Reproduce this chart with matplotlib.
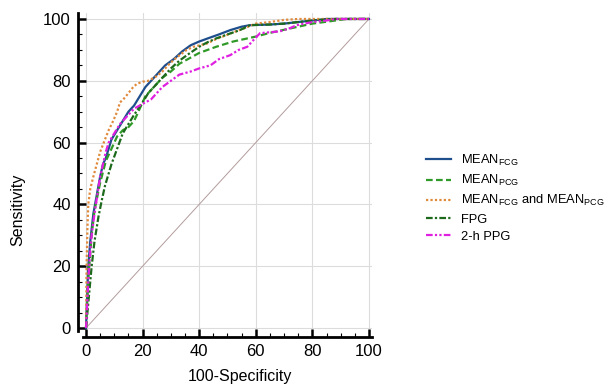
import matplotlib.pyplot as plt
from matplotlib.ticker import MultipleLocator

plt.rcParams['font.family'] = ['Liberation Sans', 'DejaVu Sans']
plt.rcParams['mathtext.fontset'] = 'custom'
plt.rcParams['mathtext.rm'] = 'Liberation Sans'

# ROC points (100-Specificity, Sensitivity)
fcg_x = [0, 0.3, 0.8, 1.5, 2.6, 4, 5, 6, 7, 9, 11, 13, 15, 17, 19, 21, 23, 26, 28, 31, 34, 37, 40, 43, 47, 51, 55, 58, 65, 70, 75, 80, 85, 100]
fcg_y = [0, 8, 20, 28, 37, 44, 49, 53, 55, 61, 64, 67, 70, 72, 75, 78, 80, 83, 85, 87, 89.5, 91.5, 92.7, 93.7, 95, 96.4, 97.5, 98, 98.2, 98.5, 99, 99.5, 100, 100]

pcg_x = [0, 0.5, 1, 2, 3, 5, 7, 9, 11, 13, 15, 17, 19, 21, 24, 27, 30, 33, 36, 40, 46, 52, 56, 60, 65, 70, 75, 80, 85, 92, 100]
pcg_y = [0, 10, 18, 30, 38, 47, 54, 58, 62, 64, 65, 67, 71, 75, 78, 81, 83, 85.5, 87, 89, 91, 92.7, 93.5, 94.3, 95.5, 96.5, 97.5, 98.5, 99.1, 100, 100]

both_x = [0, 0.2, 0.5, 0.8, 1.5, 2.6, 3.2, 5, 6.7, 8, 9.6, 11, 12, 13.2, 15, 16.7, 18, 20, 22, 25, 27, 29.7, 32, 35.6, 38, 42.6, 46, 49.7, 53, 56, 60, 65, 70, 75, 100]
both_y = [0, 20, 32, 40, 45, 49, 51, 57, 61, 64, 67, 70, 73, 74, 76, 78, 79, 79.7, 80, 81.5, 83, 85.7, 87.5, 90, 91, 92, 93.5, 94.8, 96, 97, 98.5, 99, 99.7, 100, 100]

fpg_x = [0, 1, 2, 3, 4.4, 5.5, 6.7, 9, 11, 13, 15, 17, 20, 22, 25, 28, 30, 33, 36, 40, 43, 46, 50, 54.4, 58, 65, 70, 80, 88, 100]
fpg_y = [0, 10, 20, 28, 36, 41, 46, 53, 58, 63, 66, 69, 73, 76, 79, 82, 84, 86.5, 88.5, 91, 92.5, 93.7, 95, 96.4, 98, 98.2, 98.5, 99.5, 100, 100]

ppg_x = [0, 0.3, 0.8, 1.5, 2, 3, 4, 5, 6, 7, 8, 10, 12, 15, 17, 20, 23, 25, 27, 30, 33, 37, 40, 44, 47, 51, 54, 57, 59, 61.5, 65, 68.6, 72, 74.5, 80, 85, 88.6, 100]
ppg_y = [0, 5, 15, 25, 30, 37, 43, 49, 53, 57, 60, 63, 66, 69, 71, 72.5, 74, 76, 78, 80, 82, 83, 84, 85, 87, 88.3, 90, 91, 93, 95.4, 95.7, 96, 97, 98, 99, 99.5, 100, 100]

labels = ['MEAN$_{\\mathregular{FCG}}$', 'MEAN$_{\\mathregular{PCG}}$',
          'MEAN$_{\\mathregular{FCG}}$ and MEAN$_{\\mathregular{PCG}}$', 'FPG', '2-h PPG']

fig = plt.figure(figsize=(6.08, 3.85), dpi=100)
ax = fig.add_axes([0.1368, 0.140, 0.4747, 0.8268])

ax.plot([0, 100], [0, 100], color='#b39c9c', lw=0.7)
ax.plot(fcg_x, fcg_y, color='#1f4e8c', lw=1.6, ls='-', label=labels[0])
ax.plot(pcg_x, pcg_y, color='#2f9a27', lw=1.6, ls=(0, (3, 1.5)), label=labels[1])
ax.plot(both_x, both_y, color='#e08a3c', lw=1.6, ls=(0, (1, 1)), label=labels[2])
ax.plot(fpg_x, fpg_y, color='#1d6a1d', lw=1.6, ls=(0, (3, 1, 1, 1)), label=labels[3])
ax.plot(ppg_x, ppg_y, color='#e020e0', lw=1.6, ls=(0, (3, 1, 1, 1, 1, 1)), label=labels[4])

ax.set_xlim(-1, 101)
ax.set_ylim(-1, 102)
ax.xaxis.set_major_locator(MultipleLocator(20))
ax.yaxis.set_major_locator(MultipleLocator(20))
ax.xaxis.set_minor_locator(MultipleLocator(5))
ax.yaxis.set_minor_locator(MultipleLocator(5))
ax.grid(True, which='major', color='#dcdcdc', lw=0.8)
ax.set_axisbelow(True)

for s in ['top', 'right']:
    ax.spines[s].set_visible(False)
for s in ['left', 'bottom']:
    ax.spines[s].set_position(('outward', 4))
    ax.spines[s].set_linewidth(2)
ax.tick_params(which='major', direction='in', length=6, width=1.8, labelsize=12, pad=5)
ax.tick_params(which='minor', direction='in', length=3, width=0.8)

ax.set_xlabel('100-Specificity', fontsize=11.5)
ax.set_ylabel('Sensitivity', fontsize=11.5)
ax.xaxis.set_label_coords(0.543, -0.12)
ax.yaxis.set_label_coords(-0.20, 0.38)

fig.legend(loc='center left', bbox_to_anchor=(0.682, 0.486), frameon=False,
           fontsize=9.3, handlelength=1.9, handletextpad=0.8, labelspacing=0.4)

plt.savefig('out.png', dpi=100)
